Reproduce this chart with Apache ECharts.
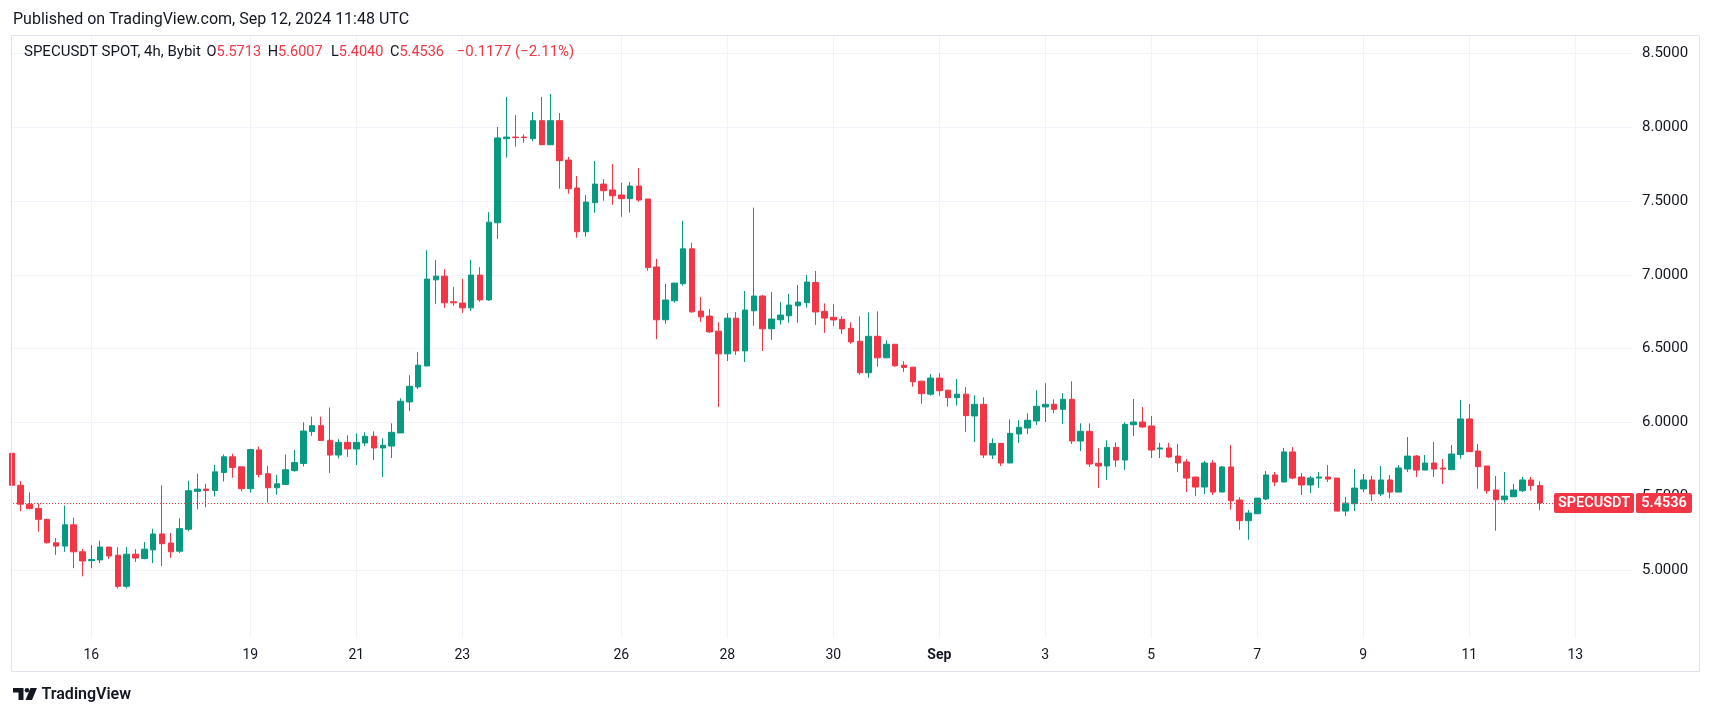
<!DOCTYPE html>
<html><head><meta charset="utf-8">
<script src="https://cdn.jsdelivr.net/npm/echarts@6/dist/echarts.min.js"></script>
<style>html,body{margin:0;padding:0;background:#fff;}#c{width:1713px;height:717px;}</style>
</head><body><div id="c"></div>
<script>
// 4h candles; index 0 = Aug 16 00:00 UTC, first candle is 9 bars earlier (Aug 14 12:00)
const firstIndex = -9;
const opens = [
5.790,5.573,5.445,5.415,5.342,5.183,5.161,5.305,5.122,
5.062,5.067,5.154,5.099,4.888,5.106,5.076,5.135,5.243,5.181,5.126,5.275,5.532,5.547,5.538,5.660,5.766,5.698,
5.550,5.813,5.651,5.556,5.579,5.673,5.721,5.937,5.977,5.878,5.778,5.864,
5.819,5.860,5.905,5.826,5.839,5.928,6.138,6.240,6.382,6.966,6.991,6.817,
6.808,6.776,6.998,6.830,7.353,7.923,7.934,7.934,7.923,8.045,7.882,8.045,7.778,7.588,7.292,7.489,7.615,7.575,
7.541,7.516,7.602,7.514,7.053,6.695,6.824,6.940,7.176,6.754,6.720,6.618,
6.464,6.706,6.484,6.756,6.856,6.634,6.695,6.722,6.790,6.811,6.948,6.752,
6.712,6.698,6.637,6.550,6.336,6.583,6.437,6.529,6.387,6.374,6.279,6.191,
6.300,6.218,6.167,6.191,6.043,6.122,5.778,5.857,5.724,5.921,5.961,6.009,
6.104,6.122,6.088,6.156,5.873,5.939,5.722,5.704,5.830,5.744,5.984,6.002,
5.975,5.819,5.826,5.771,5.731,5.629,5.561,5.724,5.527,5.697,5.473,5.333,
5.380,5.480,5.643,5.595,5.799,5.629,5.575,5.622,5.629,5.622,5.398,5.448,
5.548,5.609,5.514,5.609,5.527,5.683,5.771,5.676,5.724,5.690,5.679,5.781,
6.023,5.805,5.704,5.541,5.475,5.495,5.536,5.609,5.5713
];
const highs = [
5.800,5.601,5.525,5.450,5.346,5.216,5.436,5.353,5.142,
5.167,5.197,5.154,5.154,5.154,5.140,5.188,5.278,5.573,5.250,5.349,5.604,5.651,5.583,5.712,5.782,5.786,5.698,
5.820,5.836,5.705,5.644,5.782,5.813,6.000,6.038,6.038,6.100,5.885,5.912,
5.925,5.932,5.939,5.891,5.993,6.163,6.319,6.475,7.167,7.100,7.038,6.916,
6.971,7.100,7.052,7.425,8.002,8.206,8.084,7.952,8.104,8.206,8.226,8.097,7.799,7.670,7.541,7.771,7.649,7.751,
7.624,7.629,7.724,7.514,7.108,6.938,6.944,7.366,7.217,6.849,6.768,6.679,
6.740,6.747,6.890,7.455,6.863,6.883,6.815,6.870,6.931,6.999,7.026,6.806,
6.800,6.718,6.678,6.718,6.745,6.752,6.556,6.529,6.414,6.374,6.279,6.327,
6.333,6.218,6.293,6.239,6.183,6.170,5.891,5.857,6.020,6.014,6.061,6.217,
6.265,6.156,6.197,6.278,5.993,5.993,5.824,5.878,5.864,6.000,6.158,6.104,
6.043,5.860,5.860,5.853,5.751,5.629,5.738,5.744,5.704,5.846,5.493,5.405,
5.486,5.670,5.663,5.826,5.833,5.656,5.636,5.663,5.710,5.622,5.493,5.683,
5.649,5.636,5.704,5.643,5.710,5.900,5.778,5.778,5.867,5.751,5.846,6.152,
6.124,5.853,5.704,5.636,5.663,5.581,5.629,5.629,5.6007
];
const lows = [
5.560,5.397,5.410,5.259,5.179,5.101,5.122,5.011,4.956,
5.011,5.046,5.073,4.874,4.874,5.053,5.071,5.046,5.025,5.080,5.113,5.261,5.410,5.423,5.498,5.599,5.624,5.532,
5.523,5.626,5.457,5.509,5.574,5.664,5.700,5.908,5.876,5.656,5.756,5.765,
5.710,5.839,5.744,5.629,5.758,5.928,6.077,6.226,6.382,6.803,6.776,6.790,
6.742,6.756,6.817,6.823,7.244,7.794,7.869,7.896,7.905,7.882,7.882,7.584,7.550,7.251,7.258,7.421,7.502,7.475,
7.394,7.421,7.495,7.027,6.563,6.668,6.811,6.926,6.743,6.681,6.607,6.103,
6.416,6.457,6.409,6.654,6.484,6.559,6.661,6.675,6.675,6.777,6.660,6.606,
6.653,6.599,6.532,6.322,6.302,6.376,6.437,6.376,6.342,6.241,6.126,6.180,
6.180,6.106,6.113,5.935,5.867,5.758,5.751,5.704,5.724,5.860,5.921,5.982,
6.002,6.061,5.989,5.853,5.805,5.697,5.554,5.609,5.697,5.676,5.907,5.962,
5.758,5.758,5.758,5.663,5.527,5.500,5.514,5.507,5.527,5.407,5.271,5.204,
5.380,5.473,5.568,5.595,5.615,5.507,5.520,5.554,5.595,5.398,5.364,5.398,
5.527,5.466,5.500,5.486,5.527,5.663,5.629,5.676,5.629,5.581,5.679,5.753,
5.801,5.550,5.516,5.265,5.455,5.495,5.527,5.536,5.4040
];
const closes = [
5.573,5.445,5.415,5.342,5.183,5.161,5.305,5.122,5.060,
5.070,5.154,5.094,4.888,5.106,5.080,5.140,5.243,5.177,5.122,5.279,5.536,5.547,5.538,5.664,5.766,5.694,5.550,
5.815,5.646,5.556,5.583,5.678,5.727,5.941,5.977,5.877,5.778,5.864,5.819,
5.864,5.905,5.826,5.844,5.932,6.143,6.244,6.387,6.971,6.991,6.810,6.810,
6.776,6.998,6.830,7.357,7.928,7.934,7.930,7.930,8.045,7.882,8.045,7.774,7.584,7.292,7.493,7.615,7.570,7.536,
7.516,7.602,7.507,7.049,6.695,6.829,6.944,7.176,6.749,6.715,6.613,6.464,
6.706,6.484,6.761,6.856,6.634,6.700,6.727,6.795,6.815,6.951,6.748,6.707,
6.694,6.633,6.545,6.336,6.583,6.437,6.529,6.383,6.372,6.275,6.194,6.300,
6.214,6.167,6.191,6.045,6.122,5.778,5.857,5.724,5.925,5.966,6.014,6.109,
6.122,6.088,6.156,5.873,5.939,5.717,5.704,5.830,5.744,5.986,6.002,5.968,
5.812,5.826,5.765,5.724,5.622,5.561,5.724,5.527,5.697,5.468,5.333,5.385,
5.486,5.643,5.595,5.799,5.622,5.575,5.622,5.629,5.615,5.398,5.452,5.554,
5.609,5.514,5.609,5.527,5.690,5.771,5.676,5.724,5.683,5.683,5.785,6.023,
5.801,5.699,5.536,5.475,5.500,5.541,5.609,5.5713,5.4536
];
const dayTickIndex = [0,18,30,42,60,72,84,96,108,120,132,144,156,168];
const dayTickLabels = ['16','19','21','23','26','28','30','Sep','3','5','7','9','11','13'];
const priceTicks = [5.0,5.5,6.0,6.5,7.0,7.5,8.0,8.5];

const symbolName = 'SPECUSDT';
const headerPrefix = 'SPECUSDT SPOT, 4h, Bybit';
const publishedText = 'Published on TradingView.com, Sep 12, 2024 11:48 UTC';

const UP = '#089981', DOWN = '#F23645', TXT = '#131722', GRID = '#f0f3fa';
const FONT = 'Roboto, "Noto Sans", sans-serif';

const candleData = opens.map((o, i) => [i + firstIndex, o, closes[i], lows[i], highs[i]]);
const n = closes.length;
const lastO = opens[n-1], lastH = highs[n-1], lastL = lows[n-1], lastC = closes[n-1];
const chg = lastC - closes[n-2];
const pct = chg / closes[n-2] * 100;
const fmt4 = v => v.toFixed(4);
const sgn = (v, d) => (v < 0 ? '\u2212' : '+') + Math.abs(v).toFixed(d);

const chart = echarts.init(document.getElementById('c'), null, {renderer: 'canvas'});
chart.setOption({
  animation: false,
  backgroundColor: '#ffffff',
  textStyle: {fontFamily: FONT},
  grid: {left: 13, right: 81, top: 35, bottom: 79},
  xAxis: {
    type: 'value', min: -8.864, max: 174.42,
    axisLine: {show: false},
    axisTick: {show: false, customValues: dayTickIndex},
    axisLabel: {
      customValues: dayTickIndex, margin: 10, color: TXT, fontSize: 14, fontFamily: FONT,
      formatter: v => { const i = dayTickIndex.indexOf(Math.round(v)); const s = i >= 0 ? dayTickLabels[i] : ''; return s === 'Sep' ? '{b|Sep}' : s; },
      rich: {b: {fontWeight: 'bold', fontSize: 14, color: TXT, fontFamily: FONT}}
    },
    splitLine: {show: true, lineStyle: {color: GRID, width: 1}}
  },
  yAxis: {
    type: 'value', position: 'right', min: 4.5376, max: 8.6258, scale: true,
    axisLine: {show: false},
    axisTick: {show: false, customValues: priceTicks},
    axisLabel: {customValues: priceTicks, margin: 10, color: TXT, fontSize: 15, fontFamily: FONT, formatter: v => v.toFixed(4)},
    splitLine: {show: true, lineStyle: {color: GRID, width: 1}}
  },
  series: [{
    type: 'candlestick',
    data: candleData,
    barWidth: 6,
    clip: true,
    itemStyle: {color: UP, color0: DOWN, borderColor: UP, borderColor0: DOWN, borderWidth: 1},
    markLine: {
      silent: true, symbol: 'none', animation: false,
      data: [{yAxis: lastC}],
      lineStyle: {color: DOWN, type: [1, 2], width: 1},
      label: {show: false}
    }
  }]
});

const yLast = chart.convertToPixel({yAxisIndex: 0}, lastC);
const grp = (x, letter, val) => ({type: 'text', x: x, y: 52.5, z: 101, style: {
  text: '{d|' + letter + '}{r|' + fmt4(val) + '}', verticalAlign: 'middle',
  rich: {d: {fill: TXT, font: '14.5px ' + FONT}, r: {fill: DOWN, font: '14.5px ' + FONT}}}});
chart.setOption({
  graphic: [
    {type: 'rect', shape: {x: 11.5, y: 35.5, width: 1688, height: 636}, style: {fill: 'none', stroke: '#e0e3eb', lineWidth: 1}, z: 100},
    {type: 'text', x: 13, y: 20, style: {text: publishedText, font: '16px ' + FONT, fill: TXT, verticalAlign: 'middle'}},
    {type: 'text', x: 24, y: 52.5, z: 101, style: {text: headerPrefix, font: '15px ' + FONT, fill: TXT, verticalAlign: 'middle'}},
    grp(206.5, 'O', lastO),
    grp(267.7, 'H', lastH),
    grp(331, 'L', lastL),
    grp(390, 'C', lastC),
    {type: 'text', x: 456.7, y: 52.5, z: 101, style: {text: sgn(chg, 4) + ' (' + sgn(pct, 2) + '%)', font: '15px ' + FONT, fill: DOWN, verticalAlign: 'middle'}},
    // last price labels
    {type: 'rect', z: 110, shape: {x: 1554, y: yLast - 10, width: 80, height: 20, r: 2}, style: {fill: DOWN}},
    {type: 'text', z: 111, x: 1594, y: yLast, style: {text: symbolName, font: '600 14.5px ' + FONT, fill: '#ffffff', align: 'center', verticalAlign: 'middle'}},
    {type: 'rect', z: 110, shape: {x: 1636, y: yLast - 10, width: 56, height: 20, r: 2}, style: {fill: DOWN}},
    {type: 'text', z: 111, x: 1664, y: yLast, style: {text: fmt4(lastC), font: '600 14.5px ' + FONT, fill: '#ffffff', align: 'center', verticalAlign: 'middle'}},
    // TradingView logo
    {type: 'polygon', shape: {points: [[13,688],[23.5,688],[23.5,700],[18.5,700],[18.5,692.5],[13,692.5]]}, style: {fill: TXT}},
    {type: 'circle', shape: {cx: 27, cy: 690.3, r: 2.3}, style: {fill: TXT}},
    {type: 'polygon', shape: {points: [[30.5,688],[37,688],[32,700],[25.5,700]]}, style: {fill: TXT}},
    {type: 'text', x: 41.5, y: 695, style: {text: 'TradingView', font: '600 16px ' + FONT, fill: TXT, verticalAlign: 'middle'}}
  ]
});
</script></body></html>
